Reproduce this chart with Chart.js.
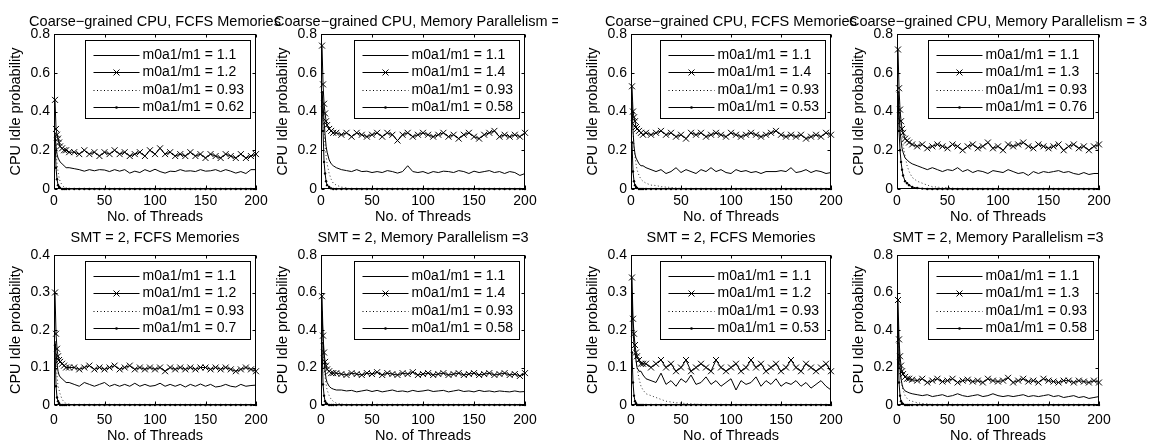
<!DOCTYPE html>
<html>
<head>
<meta charset="utf-8">
<script src="https://cdn.jsdelivr.net/npm/chart.js@4.4.1/dist/chart.umd.min.js"></script>
<style>
  html, body { margin: 0; padding: 0; background: #fff; }
  body { width: 1149px; height: 442px; position: relative; overflow: hidden; }
  .half { position: absolute; top: 0; height: 442px; overflow: hidden; }
  canvas { position: absolute; }
</style>
</head>
<body>
<div class="half" id="leftHalf" style="left:0;width:558px"></div>
<div class="half" id="rightHalf" style="left:558px;width:591px"></div>
<script>
// number of threads, shared by every series
const threads = [
  1, 2, 3, 4, 5, 6, 8, 10, 12, 15,
  20, 25, 30, 35, 40, 45, 50, 55, 60, 65,
  70, 75, 80, 85, 90, 95, 100, 105, 110, 115,
  120, 125, 130, 135, 140, 145, 150, 155, 160, 165,
  170, 175, 180, 185, 190, 195, 200
];
const xTicks = [0, 50, 100, 150, 200];
const yTicksWide = [0, 0.2, 0.4, 0.6, 0.8];
const yTicksNarrow = [0, 0.1, 0.2, 0.3, 0.4];

// A: Coarse-grained CPU, FCFS Memories (left)
const aRatios = ['1.1', '1.2', '0.93', '0.62'];
const a11 = [
  0.29, 0.22, 0.18, 0.16, 0.15, 0.14, 0.13, 0.12, 0.11, 0.11,
  0.105, 0.10, 0.092, 0.10, 0.094, 0.10, 0.098, 0.09, 0.10, 0.092,
  0.10, 0.082, 0.092, 0.085, 0.10, 0.09, 0.102, 0.09, 0.082, 0.092,
  0.09, 0.10, 0.092, 0.094, 0.09, 0.10, 0.092, 0.094, 0.10, 0.09,
  0.10, 0.092, 0.082, 0.09, 0.08, 0.10, 0.10
];
const aHigh = [
  0.46, 0.31, 0.28, 0.26, 0.24, 0.22, 0.21, 0.20, 0.20, 0.19,
  0.19, 0.18, 0.20, 0.18, 0.19, 0.17, 0.19, 0.18, 0.20, 0.18,
  0.19, 0.17, 0.18, 0.19, 0.17, 0.20, 0.18, 0.21, 0.18, 0.19,
  0.17, 0.18, 0.17, 0.19, 0.17, 0.18, 0.16, 0.18, 0.17, 0.16,
  0.18, 0.17, 0.16, 0.18, 0.16, 0.17, 0.18
];
const a093 = [
  0.28, 0.20, 0.13, 0.09, 0.06, 0.04, 0.02, 0.01, 0.005, 0.002,
  0, 0, 0, 0, 0, 0, 0, 0, 0, 0,
  0, 0, 0, 0, 0, 0, 0, 0, 0, 0,
  0, 0, 0, 0, 0, 0, 0, 0, 0, 0,
  0, 0, 0, 0, 0, 0, 0
];
const aLow = [
  0.25, 0.11, 0.05, 0.02, 0.01, 0.005, 0, 0, 0, 0,
  0, 0, 0, 0, 0, 0, 0, 0, 0, 0,
  0, 0, 0, 0, 0, 0, 0, 0, 0, 0,
  0, 0, 0, 0, 0, 0, 0, 0, 0, 0,
  0, 0, 0, 0, 0, 0, 0
];

// B: Coarse-grained CPU, Memory Parallelism = 3 (left)
const bRatios = ['1.1', '1.4', '0.93', '0.58'];
const b11 = [
  0.50, 0.44, 0.35, 0.28, 0.22, 0.19, 0.15, 0.13, 0.12, 0.11,
  0.10, 0.095, 0.09, 0.10, 0.09, 0.092, 0.085, 0.09, 0.085, 0.095,
  0.09, 0.082, 0.09, 0.12, 0.09, 0.085, 0.09, 0.08, 0.09, 0.085,
  0.092, 0.09, 0.085, 0.095, 0.09, 0.08, 0.092, 0.085, 0.09, 0.095,
  0.085, 0.09, 0.08, 0.09, 0.085, 0.07, 0.08
];
const bHigh = [
  0.74, 0.54, 0.44, 0.39, 0.35, 0.33, 0.31, 0.30, 0.29, 0.29,
  0.28, 0.29, 0.27, 0.29, 0.28, 0.27, 0.28, 0.29, 0.27, 0.29,
  0.28, 0.25, 0.28, 0.29, 0.27, 0.28, 0.29, 0.28, 0.27, 0.28,
  0.29, 0.27, 0.28, 0.26, 0.28, 0.29, 0.27, 0.26, 0.28, 0.29,
  0.30, 0.27, 0.28, 0.27, 0.28, 0.27, 0.29
];
const b093 = [
  0.50, 0.40, 0.30, 0.22, 0.17, 0.13, 0.08, 0.05, 0.03, 0.02,
  0.01, 0.005, 0, 0, 0, 0, 0, 0, 0, 0,
  0, 0, 0, 0, 0, 0, 0, 0, 0, 0,
  0, 0, 0, 0, 0, 0, 0, 0, 0, 0,
  0, 0, 0, 0, 0, 0, 0
];
const bLow = [
  0.50, 0.30, 0.14, 0.08, 0.04, 0.02, 0.01, 0.003, 0, 0,
  0, 0, 0, 0, 0, 0, 0, 0, 0, 0,
  0, 0, 0, 0, 0, 0, 0, 0, 0, 0,
  0, 0, 0, 0, 0, 0, 0, 0, 0, 0,
  0, 0, 0, 0, 0, 0, 0
];

// C: Coarse-grained CPU, FCFS Memories (right)
const cRatios = ['1.1', '1.4', '0.93', '0.53'];
const c11 = [
  0.45, 0.30, 0.22, 0.18, 0.16, 0.15, 0.13, 0.12, 0.12, 0.11,
  0.10, 0.09, 0.10, 0.08, 0.09, 0.11, 0.085, 0.10, 0.09, 0.08,
  0.10, 0.09, 0.11, 0.09, 0.10, 0.085, 0.08, 0.10, 0.09, 0.095,
  0.085, 0.09, 0.08, 0.09, 0.09, 0.09, 0.095, 0.09, 0.11, 0.085,
  0.09, 0.10, 0.085, 0.095, 0.09, 0.08, 0.085
];
const cHigh = [
  0.53, 0.40, 0.37, 0.35, 0.32, 0.31, 0.30, 0.29, 0.28, 0.29,
  0.28, 0.29, 0.30, 0.28, 0.29, 0.27, 0.28, 0.26, 0.29, 0.28,
  0.29, 0.27, 0.28, 0.29, 0.28, 0.27, 0.29, 0.28, 0.27, 0.28,
  0.29, 0.28, 0.27, 0.28, 0.29, 0.30, 0.28, 0.27, 0.28, 0.27,
  0.28, 0.26, 0.27, 0.28, 0.27, 0.29, 0.28
];
const c093 = [
  0.40, 0.30, 0.22, 0.17, 0.13, 0.10, 0.07, 0.05, 0.04, 0.03,
  0.02, 0.018, 0.012, 0.01, 0.008, 0.005, 0.003, 0.002, 0, 0,
  0, 0, 0, 0, 0, 0, 0, 0, 0, 0,
  0, 0, 0, 0, 0, 0, 0, 0, 0, 0,
  0, 0, 0, 0, 0, 0, 0
];
const cLow = [
  0.24, 0.09, 0.04, 0.02, 0.01, 0.005, 0, 0, 0, 0,
  0, 0, 0, 0, 0, 0, 0, 0, 0, 0,
  0, 0, 0, 0, 0, 0, 0, 0, 0, 0,
  0, 0, 0, 0, 0, 0, 0, 0, 0, 0,
  0, 0, 0, 0, 0, 0, 0
];

// D: Coarse-grained CPU, Memory Parallelism = 3 (right)
const dRatios = ['1.1', '1.3', '0.93', '0.76'];
const d11 = [
  0.50, 0.40, 0.30, 0.25, 0.21, 0.19, 0.16, 0.15, 0.14, 0.13,
  0.12, 0.11, 0.10, 0.11, 0.10, 0.09, 0.10, 0.095, 0.11, 0.09,
  0.10, 0.085, 0.095, 0.09, 0.08, 0.095, 0.09, 0.085, 0.10, 0.09,
  0.08, 0.085, 0.07, 0.09, 0.08, 0.09, 0.085, 0.09, 0.095, 0.085,
  0.09, 0.08, 0.075, 0.085, 0.075, 0.08, 0.08
];
const dHigh = [
  0.72, 0.52, 0.41, 0.35, 0.31, 0.29, 0.26, 0.25, 0.24, 0.23,
  0.22, 0.23, 0.21, 0.22, 0.23, 0.22, 0.21, 0.23, 0.22, 0.20,
  0.22, 0.23, 0.21, 0.22, 0.24, 0.21, 0.22, 0.20, 0.23, 0.22,
  0.23, 0.24, 0.22, 0.21, 0.23, 0.22, 0.21, 0.22, 0.23, 0.20,
  0.22, 0.23, 0.21, 0.22, 0.20, 0.22, 0.23
];
const d093 = [
  0.50, 0.45, 0.38, 0.32, 0.27, 0.23, 0.17, 0.12, 0.09, 0.06,
  0.04, 0.03, 0.02, 0.012, 0.01, 0.006, 0.008, 0.004, 0.002, 0,
  0, 0, 0, 0, 0, 0, 0, 0, 0, 0,
  0, 0, 0, 0, 0, 0, 0, 0, 0, 0,
  0, 0, 0, 0, 0, 0, 0
];
const dLow = [
  0.50, 0.30, 0.20, 0.14, 0.10, 0.07, 0.04, 0.03, 0.02, 0.01,
  0.005, 0.002, 0, 0, 0, 0, 0, 0, 0, 0,
  0, 0, 0, 0, 0, 0, 0, 0, 0, 0,
  0, 0, 0, 0, 0, 0, 0, 0, 0, 0,
  0, 0, 0, 0, 0, 0, 0
];

// E: SMT = 2, FCFS Memories (left)
const eRatios = ['1.1', '1.2', '0.93', '0.7'];
const e11 = [
  0.17, 0.14, 0.11, 0.09, 0.08, 0.075, 0.07, 0.065, 0.06, 0.06,
  0.055, 0.05, 0.06, 0.055, 0.05, 0.055, 0.06, 0.05, 0.055, 0.05,
  0.055, 0.05, 0.058, 0.05, 0.055, 0.05, 0.052, 0.058, 0.05, 0.055,
  0.05, 0.055, 0.048, 0.055, 0.05, 0.056, 0.05, 0.055, 0.048, 0.05,
  0.055, 0.05, 0.048, 0.055, 0.05, 0.052, 0.053
];
const eHigh = [
  0.30, 0.19, 0.15, 0.13, 0.12, 0.115, 0.11, 0.105, 0.10, 0.10,
  0.10, 0.095, 0.10, 0.105, 0.095, 0.10, 0.095, 0.10, 0.105, 0.095,
  0.10, 0.105, 0.095, 0.10, 0.095, 0.10, 0.095, 0.10, 0.09, 0.10,
  0.095, 0.10, 0.095, 0.10, 0.095, 0.10, 0.10, 0.095, 0.10, 0.095,
  0.10, 0.095, 0.09, 0.095, 0.10, 0.095, 0.09
];
const e093 = [
  0.17, 0.12, 0.08, 0.05, 0.04, 0.03, 0.015, 0.008, 0.004, 0.002,
  0, 0, 0, 0, 0, 0, 0, 0, 0, 0,
  0, 0, 0, 0, 0, 0, 0, 0, 0, 0,
  0, 0, 0, 0, 0, 0, 0, 0, 0, 0,
  0, 0, 0, 0, 0, 0, 0
];
const eLow = [
  0.16, 0.05, 0.02, 0.01, 0.005, 0, 0, 0, 0, 0,
  0, 0, 0, 0, 0, 0, 0, 0, 0, 0,
  0, 0, 0, 0, 0, 0, 0, 0, 0, 0,
  0, 0, 0, 0, 0, 0, 0, 0, 0, 0,
  0, 0, 0, 0, 0, 0, 0
];

// F: SMT = 2, Memory Parallelism = 3 (left)
const fRatios = ['1.1', '1.4', '0.93', '0.58'];
const f11 = [
  0.50, 0.35, 0.25, 0.18, 0.14, 0.12, 0.10, 0.09, 0.085, 0.08,
  0.08, 0.075, 0.078, 0.07, 0.075, 0.08, 0.072, 0.078, 0.07, 0.075,
  0.08, 0.072, 0.075, 0.07, 0.078, 0.072, 0.075, 0.08, 0.072, 0.075,
  0.078, 0.07, 0.075, 0.08, 0.072, 0.075, 0.07, 0.078, 0.072, 0.075,
  0.07, 0.075, 0.072, 0.07, 0.075, 0.07, 0.072
];
const fHigh = [
  0.58, 0.37, 0.28, 0.23, 0.21, 0.19, 0.18, 0.17, 0.17, 0.17,
  0.165, 0.16, 0.17, 0.165, 0.16, 0.17, 0.165, 0.175, 0.16, 0.17,
  0.165, 0.16, 0.17, 0.165, 0.175, 0.16, 0.165, 0.17, 0.16, 0.165,
  0.17, 0.16, 0.165, 0.17, 0.16, 0.165, 0.17, 0.16, 0.165, 0.17,
  0.16, 0.165, 0.17, 0.16, 0.165, 0.155, 0.17
];
const f093 = [
  0.35, 0.30, 0.22, 0.15, 0.11, 0.08, 0.05, 0.03, 0.02, 0.01,
  0.005, 0, 0, 0, 0, 0, 0, 0, 0, 0,
  0, 0, 0, 0, 0, 0, 0, 0, 0, 0,
  0, 0, 0, 0, 0, 0, 0, 0, 0, 0,
  0, 0, 0, 0, 0, 0, 0
];
const fLow = [
  0.33, 0.11, 0.05, 0.02, 0.01, 0.005, 0, 0, 0, 0,
  0, 0, 0, 0, 0, 0, 0, 0, 0, 0,
  0, 0, 0, 0, 0, 0, 0, 0, 0, 0,
  0, 0, 0, 0, 0, 0, 0, 0, 0, 0,
  0, 0, 0, 0, 0, 0, 0
];

// G: SMT = 2, FCFS Memories (right)
const gRatios = ['1.1', '1.2', '0.93', '0.53'];
const g11 = [
  0.30, 0.20, 0.16, 0.14, 0.12, 0.10, 0.09, 0.09, 0.08, 0.07,
  0.065, 0.06, 0.085, 0.055, 0.065, 0.05, 0.07, 0.06, 0.08, 0.055,
  0.06, 0.075, 0.055, 0.065, 0.05, 0.06, 0.07, 0.04, 0.065, 0.055,
  0.06, 0.075, 0.05, 0.065, 0.055, 0.07, 0.05, 0.06, 0.055, 0.065,
  0.05, 0.06, 0.045, 0.055, 0.065, 0.05, 0.04
];
const gHigh = [
  0.34, 0.23, 0.19, 0.16, 0.14, 0.13, 0.12, 0.11, 0.11, 0.11,
  0.10, 0.11, 0.12, 0.10, 0.11, 0.09, 0.10, 0.12, 0.09, 0.10,
  0.11, 0.10, 0.09, 0.12, 0.10, 0.09, 0.10, 0.11, 0.09, 0.10,
  0.12, 0.10, 0.11, 0.09, 0.10, 0.11, 0.09, 0.10, 0.12, 0.10,
  0.09, 0.11, 0.10, 0.09, 0.10, 0.11, 0.09
];
const g093 = [
  0.20, 0.19, 0.16, 0.14, 0.12, 0.10, 0.07, 0.05, 0.04, 0.03,
  0.025, 0.02, 0.015, 0.01, 0.008, 0.006, 0.005, 0.004, 0.003, 0.002,
  0.002, 0.001, 0, 0, 0, 0, 0, 0, 0, 0,
  0, 0, 0, 0, 0, 0, 0, 0, 0, 0,
  0, 0, 0, 0, 0, 0, 0
];
const gLow = [
  0.14, 0.06, 0.025, 0.01, 0.005, 0, 0, 0, 0, 0,
  0, 0, 0, 0, 0, 0, 0, 0, 0, 0,
  0, 0, 0, 0, 0, 0, 0, 0, 0, 0,
  0, 0, 0, 0, 0, 0, 0, 0, 0, 0,
  0, 0, 0, 0, 0, 0, 0
];

// H: SMT = 2, Memory Parallelism = 3 (right)
const hRatios = ['1.1', '1.3', '0.93', '0.58'];
const h11 = [
  0.45, 0.30, 0.20, 0.14, 0.11, 0.09, 0.075, 0.07, 0.065, 0.06,
  0.055, 0.05, 0.055, 0.045, 0.05, 0.055, 0.045, 0.05, 0.06, 0.05,
  0.045, 0.05, 0.055, 0.045, 0.05, 0.06, 0.05, 0.045, 0.05, 0.045,
  0.05, 0.055, 0.045, 0.05, 0.045, 0.05, 0.055, 0.045, 0.05, 0.04,
  0.045, 0.05, 0.04, 0.045, 0.035, 0.04, 0.045
];
const hHigh = [
  0.56, 0.35, 0.26, 0.21, 0.18, 0.165, 0.15, 0.14, 0.14, 0.135,
  0.13, 0.14, 0.12, 0.13, 0.14, 0.125, 0.13, 0.14, 0.12, 0.13,
  0.135, 0.125, 0.13, 0.12, 0.14, 0.13, 0.125, 0.13, 0.145, 0.12,
  0.13, 0.14, 0.125, 0.13, 0.12, 0.14, 0.13, 0.125, 0.12, 0.13,
  0.13, 0.12, 0.13, 0.125, 0.12, 0.13, 0.12
];
const h093 = [
  0.35, 0.30, 0.20, 0.14, 0.10, 0.08, 0.05, 0.035, 0.025, 0.02,
  0.012, 0.008, 0.005, 0.003, 0, 0, 0, 0, 0, 0,
  0, 0, 0, 0, 0, 0, 0, 0, 0, 0,
  0, 0, 0, 0, 0, 0, 0, 0, 0, 0,
  0, 0, 0, 0, 0, 0, 0
];
const hLow = [
  0.33, 0.12, 0.05, 0.02, 0.01, 0.005, 0, 0, 0, 0,
  0, 0, 0, 0, 0, 0, 0, 0, 0, 0,
  0, 0, 0, 0, 0, 0, 0, 0, 0, 0,
  0, 0, 0, 0, 0, 0, 0, 0, 0, 0,
  0, 0, 0, 0, 0, 0, 0
];

const FONT = "'Liberation Sans', Arial, Helvetica, sans-serif";
Chart.defaults.font.family = FONT;
Chart.defaults.color = '#000';

// plot boxes of the four columns (page pixels)
const columns = [
  { left: 54, right: 256, half: 'leftHalf', offset: 0 },
  { left: 321, right: 525, half: 'leftHalf', offset: 0 },
  { left: 631, right: 831, half: 'rightHalf', offset: 558 },
  { left: 897, right: 1099, half: 'rightHalf', offset: 558 }
];
// canvas top, plot top inside canvas, title centre inside canvas
const rows = [
  { top: 0, height: 229, plotTop: 34, titleY: 22, xAxisH: 40, tickPad: 3.6, xTitlePad: 3.8 },
  { top: 215, height: 232, plotTop: 40, titleY: 23, xAxisH: 42, tickPad: 6.6, xTitlePad: 2.8 }
];
const MARGIN = 110;

const panels = [
  { title: 'Coarse\u2212grained CPU, FCFS Memories', row: 0, col: 0, yTicks: yTicksWide, ratios: aRatios, series: [a11, aHigh, a093, aLow] },
  { title: 'Coarse\u2212grained CPU, Memory Parallelism = 3', row: 0, col: 1, yTicks: yTicksWide, ratios: bRatios, series: [b11, bHigh, b093, bLow] },
  { title: 'Coarse\u2212grained CPU, FCFS Memories', row: 0, col: 2, yTicks: yTicksWide, ratios: cRatios, series: [c11, cHigh, c093, cLow] },
  { title: 'Coarse\u2212grained CPU, Memory Parallelism = 3', row: 0, col: 3, yTicks: yTicksWide, ratios: dRatios, series: [d11, dHigh, d093, dLow] },
  { title: 'SMT = 2, FCFS Memories', row: 1, col: 0, yTicks: yTicksNarrow, ratios: eRatios, series: [e11, eHigh, e093, eLow] },
  { title: 'SMT = 2, Memory Parallelism =3', row: 1, col: 1, yTicks: yTicksWide, ratios: fRatios, series: [f11, fHigh, f093, fLow] },
  { title: 'SMT = 2, FCFS Memories', row: 1, col: 2, yTicks: yTicksNarrow, ratios: gRatios, series: [g11, gHigh, g093, gLow] },
  { title: 'SMT = 2, Memory Parallelism =3', row: 1, col: 3, yTicks: yTicksWide, ratios: hRatios, series: [h11, hHigh, h093, hLow] }
];

/**
 * Pair the thread counts with a series.
 */
function toPoints(values) {
  return values.map((v, i) => ({ x: threads[i], y: v }));
}

/**
 * Marker of a legend entry.
 */
function drawMarker(ctx, kind, x, y) {
  if (kind === 1) {
    const r = 4.2 * Math.SQRT1_2;
    ctx.beginPath();
    ctx.moveTo(x - r, y - r); ctx.lineTo(x + r, y + r);
    ctx.moveTo(x - r, y + r); ctx.lineTo(x + r, y - r);
    ctx.stroke();
  } else if (kind === 3) {
    ctx.beginPath();
    ctx.arc(x, y, 1.3, 0, Math.PI * 2);
    ctx.fill();
  }
}

// panel title, box, inward ticks and the boxed legend
const framePlugin = {
  id: 'frame',
  afterDatasetsDraw(chart, args, opts) {
    const { ctx, chartArea: a, scales: { x, y } } = chart;
    const L = Math.round(a.left) + 0.5, R = Math.round(a.right) - 0.5;
    const T = Math.round(a.top) + 0.5, B = Math.round(a.bottom) - 0.5;
    ctx.save();
    ctx.strokeStyle = '#000';
    ctx.fillStyle = '#000';
    ctx.lineWidth = 1;

    ctx.font = '14.5px ' + FONT;
    ctx.textAlign = 'center';
    ctx.textBaseline = 'middle';
    ctx.fillText(opts.text, (a.left + a.right) / 2, opts.y);

    ctx.beginPath();
    x.ticks.forEach(t => {
      const px = Math.round(x.getPixelForValue(t.value)) + 0.5;
      ctx.moveTo(px, B); ctx.lineTo(px, B - 3);
      ctx.moveTo(px, T); ctx.lineTo(px, T + 3);
    });
    y.ticks.forEach(t => {
      const py = Math.round(y.getPixelForValue(t.value)) + 0.5;
      ctx.moveTo(L, py); ctx.lineTo(L + 3, py);
      ctx.moveTo(R, py); ctx.lineTo(R - 3, py);
    });
    ctx.stroke();
    ctx.strokeRect(L, T, R - L, B - T);

    // legend
    ctx.font = '14px ' + FONT;
    const labels = chart.data.datasets.map(d => d.label);
    const textW = Math.max(...labels.map(t => ctx.measureText(t).width));
    const boxW = Math.round(57 + textW + 6);
    const boxH = 78;
    const bx = Math.round(R) - 6 - boxW + 0.5;
    const by = Math.round(T) + 5 + 0.5;
    ctx.fillStyle = '#fff';
    ctx.fillRect(bx, by, boxW, boxH);
    ctx.strokeRect(bx, by, boxW, boxH);
    ctx.fillStyle = '#000';
    ctx.textBaseline = 'middle';
    ctx.textAlign = 'left';
    labels.forEach((text, i) => {
      const ly = Math.round(by + 14 + i * 17.5) + 0.5;
      ctx.save();
      if (i === 2) ctx.setLineDash([1, 2.5]);
      ctx.beginPath();
      ctx.moveTo(bx + 8, ly); ctx.lineTo(bx + 54, ly);
      ctx.stroke();
      ctx.restore();
      drawMarker(ctx, i, bx + 31, ly);
      ctx.fillText(text, bx + 57, ly);
    });
    ctx.restore();
  }
};

panels.forEach(p => {
  const col = columns[p.col];
  const row = rows[p.row];
  const canvas = document.createElement('canvas');
  const width = (col.right - col.left) + 2 * MARGIN;
  canvas.width = width;
  canvas.height = row.height;
  canvas.style.left = (col.left - MARGIN - col.offset) + 'px';
  canvas.style.top = row.top + 'px';
  canvas.style.width = width + 'px';
  canvas.style.height = row.height + 'px';
  document.getElementById(col.half).appendChild(canvas);

  const base = { borderColor: '#000', borderWidth: 1, tension: 0, clip: false };
  const datasets = [
    Object.assign({}, base, { label: 'm0a1/m1 = ' + p.ratios[0], data: toPoints(p.series[0]), pointRadius: 0 }),
    Object.assign({}, base, { label: 'm0a1/m1 = ' + p.ratios[1], data: toPoints(p.series[1]),
      pointStyle: 'crossRot', pointRadius: 4.2, pointBorderWidth: 1, pointBorderColor: '#000', pointBackgroundColor: '#000' }),
    Object.assign({}, base, { label: 'm0a1/m1 = ' + p.ratios[2], data: toPoints(p.series[2]),
      borderColor: '#333', borderDash: [1, 2.5], pointRadius: 0 }),
    Object.assign({}, base, { label: 'm0a1/m1 = ' + p.ratios[3], data: toPoints(p.series[3]),
      pointStyle: 'circle', pointRadius: 1.2, pointBorderWidth: 0, pointBackgroundColor: '#000', pointBorderColor: '#000' })
  ];

  new Chart(canvas, {
    type: 'line',
    data: { datasets },
    options: {
      responsive: false,
      animation: false,
      devicePixelRatio: 1,
      events: [],
      layout: { padding: { left: MARGIN - 60, right: MARGIN, top: row.plotTop, bottom: 0 } },
      plugins: {
        legend: { display: false },
        tooltip: { enabled: false },
        title: { display: false },
        frame: { text: p.title, y: row.titleY }
      },
      scales: {
        x: {
          type: 'linear',
          min: 0,
          max: 200,
          afterBuildTicks: ax => { ax.ticks = xTicks.map(v => ({ value: v })); },
          afterFit: ax => { ax.height = row.xAxisH; },
          grid: { display: false, drawTicks: false },
          border: { display: false },
          ticks: { color: '#000', font: { size: 14 }, padding: row.tickPad, maxRotation: 0 },
          title: {
            display: true,
            text: 'No. of Threads',
            color: '#000',
            font: { size: 14.5, lineHeight: 1.2 },
            padding: { top: 0, bottom: row.xTitlePad }
          }
        },
        y: {
          type: 'linear',
          min: 0,
          max: p.yTicks[p.yTicks.length - 1],
          afterBuildTicks: ax => { ax.ticks = p.yTicks.map(v => ({ value: v })); },
          afterFit: ax => { ax.width = 60; },
          grid: { display: false, drawTicks: false },
          border: { display: false },
          ticks: { color: '#000', font: { size: 14 }, padding: 4 },
          title: {
            display: true,
            text: 'CPU Idle probability',
            color: '#000',
            font: { size: 14.5, lineHeight: 1.2 },
            padding: { top: 13.3, bottom: 0 }
          }
        }
      }
    },
    plugins: [framePlugin]
  });
});
</script>
</body>
</html>
